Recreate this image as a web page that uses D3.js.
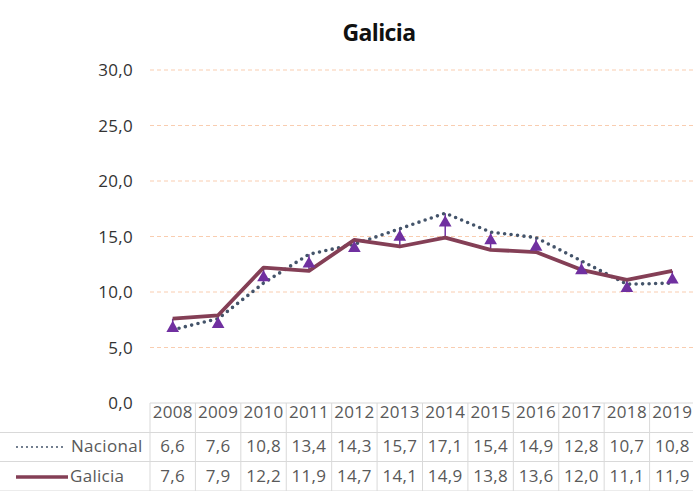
<!DOCTYPE html>
<html>
<head>
<meta charset="utf-8">
<script src="https://cdn.jsdelivr.net/npm/d3@7"></script>
<style>
  body { margin: 0; background: #fff; }
  svg { display: block; font-family: "Open Sans", sans-serif; }
</style>
</head>
<body>
<div id="chart"></div>
<script>
const years = ["2008", "2009", "2010", "2011", "2012", "2013", "2014", "2015", "2016", "2017", "2018", "2019"];
const nacional = [6.6, 7.6, 10.8, 13.4, 14.3, 15.7, 17.1, 15.4, 14.9, 12.8, 10.7, 10.8];
const galicia = [7.6, 7.9, 12.2, 11.9, 14.7, 14.1, 14.9, 13.8, 13.6, 12.0, 11.1, 11.9];
// third series, markers only
const marcas = [6.9, 7.25, 11.45, 12.7, 14.1, 15.1, 16.4, 14.8, 14.2, 12.1, 10.5, 11.25];
const yTicks = [0, 5, 10, 15, 20, 25, 30];

const width = 693;
const height = 491;
const plotLeft = 150;
const plotRight = 695;
const plotTop = 70;
const plotBottom = 403;
const rowLines = [403, 432.5, 461.5, 491];

const fmt = (v) => d3.format(".1f")(v).replace(".", ",");

const svg = d3.select("#chart").append("svg")
  .attr("width", width)
  .attr("height", height);

const x = d3.scaleBand().domain(years).range([plotLeft, plotRight]);
const y = d3.scaleLinear().domain([0, 30]).range([plotBottom, plotTop]);
const cx = (d) => x(d) + x.bandwidth() / 2;

// title
svg.append("text")
  .attr("x", 379)
  .attr("y", 41)
  .attr("text-anchor", "middle")
  .attr("font-size", 23)
  .attr("font-weight", 700)
  .attr("letter-spacing", -0.6)
  .attr("fill", "#111")
  .text("Galicia");

// gridlines
svg.append("g")
  .selectAll("line")
  .data(yTicks.filter((d) => d > 0))
  .join("line")
  .attr("x1", plotLeft)
  .attr("x2", plotRight)
  .attr("y1", (d) => y(d))
  .attr("y2", (d) => y(d))
  .attr("stroke", "#f9cdb0")
  .attr("stroke-width", 1)
  .attr("stroke-dasharray", "4,3");

// y axis labels
svg.append("g")
  .selectAll("text")
  .data(yTicks)
  .join("text")
  .attr("x", 133)
  .attr("y", (d) => y(d) + 6)
  .attr("text-anchor", "end")
  .attr("font-size", 17)
  .attr("letter-spacing", 0.3)
  .attr("fill", "#333")
  .text(fmt);

// data table grid
const table = svg.append("g").attr("stroke", "#d9d9d9").attr("stroke-width", 1);
table.append("line")
  .attr("x1", plotLeft).attr("x2", plotRight)
  .attr("y1", rowLines[0]).attr("y2", rowLines[0]);
rowLines.slice(1).forEach((ry) => {
  table.append("line")
    .attr("x1", 0).attr("x2", plotRight)
    .attr("y1", ry).attr("y2", ry);
});
table.selectAll(".col")
  .data(years)
  .join("line")
  .attr("class", "col")
  .attr("x1", (d) => x(d))
  .attr("x2", (d) => x(d))
  .attr("y1", rowLines[0])
  .attr("y2", height);

const cellText = (g, data, baseline, fill) =>
  g.selectAll("text")
    .data(data)
    .join("text")
    .attr("x", (d, i) => cx(years[i]))
    .attr("y", baseline)
    .attr("text-anchor", "middle")
    .attr("font-size", 17)
    .attr("letter-spacing", 0.3)
    .attr("fill", fill)
    .text((d) => (typeof d === "number" ? fmt(d) : d));

cellText(svg.append("g"), years, 418, "#595959");
cellText(svg.append("g"), nacional, 452, "#595959");
cellText(svg.append("g"), galicia, 482, "#595959");

// legend keys in table
svg.append("line")
  .attr("x1", 17).attr("x2", 66)
  .attr("y1", 447).attr("y2", 447)
  .attr("stroke", "#44546a")
  .attr("stroke-width", 2)
  .attr("stroke-linecap", "round")
  .attr("stroke-dasharray", "0,5");
svg.append("text")
  .attr("x", 71).attr("y", 452)
  .attr("font-size", 17)
  .attr("letter-spacing", 0.3)
  .attr("fill", "#595959")
  .text("Nacional");
svg.append("line")
  .attr("x1", 16).attr("x2", 68)
  .attr("y1", 477).attr("y2", 477)
  .attr("stroke", "#843f56")
  .attr("stroke-width", 3.5);
svg.append("text")
  .attr("x", 70).attr("y", 482)
  .attr("font-size", 17)
  .attr("letter-spacing", 0.3)
  .attr("fill", "#595959")
  .text("Galicia");

// high-low lines
svg.append("g")
  .selectAll("line")
  .data(years)
  .join("line")
  .attr("x1", cx)
  .attr("x2", cx)
  .attr("y1", (d, i) => y(Math.min(nacional[i], galicia[i], marcas[i])))
  .attr("y2", (d, i) => y(Math.max(nacional[i], galicia[i], marcas[i])))
  .attr("stroke", "#7030a0")
  .attr("stroke-width", 1.5);

const line = d3.line()
  .x((d, i) => cx(years[i]))
  .y((d) => y(d));

svg.append("path")
  .datum(nacional)
  .attr("d", line)
  .attr("fill", "none")
  .attr("stroke", "#44546a")
  .attr("stroke-width", 3.6)
  .attr("stroke-linecap", "round")
  .attr("stroke-dasharray", "0,6.5");

svg.append("path")
  .datum(galicia)
  .attr("d", line)
  .attr("fill", "none")
  .attr("stroke", "#843f56")
  .attr("stroke-width", 3.8)
  .attr("stroke-linejoin", "round");

// triangle markers
const tri = d3.symbol().type(d3.symbolTriangle).size(70);
svg.append("g")
  .selectAll("path")
  .data(marcas)
  .join("path")
  .attr("d", tri)
  .attr("transform", (d, i) => `translate(${cx(years[i])},${y(d) + 1.8})`)
  .attr("fill", "#7030a0");
</script>
</body>
</html>
